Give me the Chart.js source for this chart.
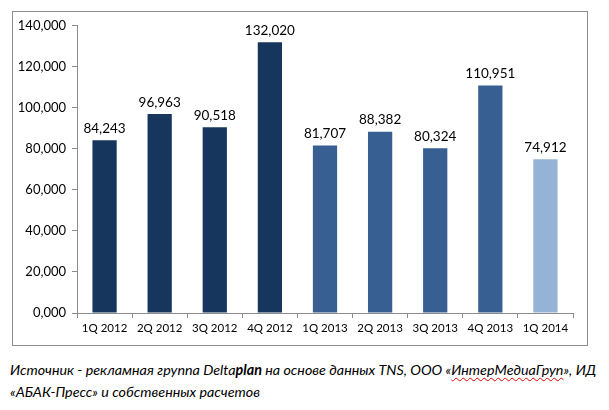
<!DOCTYPE html>
<html>
<head>
<meta charset="utf-8">
<script src="https://cdn.jsdelivr.net/npm/chart.js@4/dist/chart.umd.min.js"></script>
<style>
  body { margin: 0; background: #fff; width: 609px; height: 410px; position: relative; overflow: hidden; }
  #box { position: absolute; left: 12px; top: 11px; width: 574px; height: 333px; border: 1px solid #8c8c8c; }
  #cap { position: absolute; left: 10px; top: 359px; font-family: Lato, sans-serif; font-style: italic; font-size: 14.3px; line-height: 22px; color: #000; white-space: nowrap; }
  .sp { text-decoration: underline wavy #e00000; text-decoration-thickness: 1px; text-underline-offset: 2px; }
</style>
</head>
<body>
<div id="box"><canvas id="c" width="574" height="333"></canvas></div>
<div id="cap">Источник - рекламная группа Delta<b>plan</b> на основе данных TNS, ООО «<span class="sp">ИнтерМедиаГруп</span>», ИД<br>«АБАК-Пресс» и собственных расчетов</div>
<script>
// данные по кварталам
const quarters = ['1Q 2012', '2Q 2012', '3Q 2012', '4Q 2012', '1Q 2013', '2Q 2013', '3Q 2013', '4Q 2013', '1Q 2014'];
const values = [84243, 96963, 90518, 132020, 81707, 88382, 80324, 110951, 74912];
const barColors = ['#17365d', '#17365d', '#17365d', '#17365d', '#375f91', '#375f91', '#375f91', '#375f91', '#95b3d7'];
const yTicks = [0, 20000, 40000, 60000, 80000, 100000, 120000, 140000];

const fmt = (v) => v === 0 ? '0,000' : v.toLocaleString('en-US');

// подписи значений над столбцами
const valueLabels = {
  id: 'valueLabels',
  afterDatasetsDraw(chart) {
    const ctx = chart.ctx;
    const meta = chart.getDatasetMeta(0);
    ctx.save();
    ctx.font = '13.5px Lato, sans-serif';
    ctx.fillStyle = '#000';
    ctx.textAlign = 'center';
    ctx.textBaseline = 'bottom';
    meta.data.forEach((bar, i) => {
      ctx.fillText(fmt(values[i]), bar.x, bar.y - 5);
    });
    ctx.restore();
  }
};

new Chart(document.getElementById('c'), {
  type: 'bar',
  data: {
    labels: quarters,
    datasets: [{
      data: values,
      backgroundColor: barColors,
      categoryPercentage: 1,
      barPercentage: 0.44,
    }],
  },
  options: {
    responsive: false,
    animation: false,
    layout: { padding: { top: 13, right: 14, left: 0, bottom: 0 } },
    plugins: { legend: { display: false }, tooltip: { enabled: false } },
    scales: {
      x: {
        offset: true,
        grid: { display: true, offset: true, drawOnChartArea: false, tickLength: 5, color: '#8c8c8c' },
        border: { color: '#8c8c8c' },
        ticks: { color: '#000', font: { family: 'Lato, sans-serif', size: 11.5 }, maxRotation: 0, padding: 3 },
        afterFit: (s) => { s.height = 32; },
      },
      y: {
        min: 0,
        max: 140000,
        afterBuildTicks: (s) => { s.ticks = yTicks.map(v => ({ value: v })); },
        grid: { display: true, drawOnChartArea: false, tickLength: 5, color: '#8c8c8c' },
        border: { color: '#8c8c8c' },
        ticks: { color: '#000', font: { family: 'Lato, sans-serif', size: 13 }, padding: 6, callback: (v) => fmt(v) },
        afterFit: (s) => { s.width = 64; },
      },
    },
  },
  plugins: [valueLabels],
});
</script>
</body>
</html>
